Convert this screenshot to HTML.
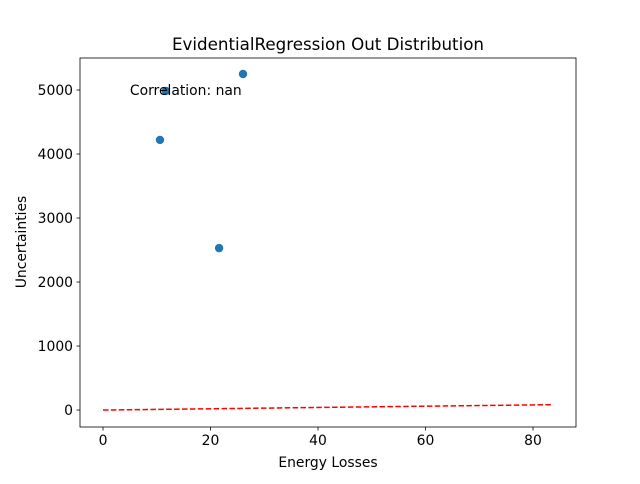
<!DOCTYPE html>
<html><head><meta charset="utf-8"><style>
body{margin:0;background:#fff;font-family:"DejaVu Sans","Liberation Sans",sans-serif;}
svg text{font-family:"DejaVu Sans","Liberation Sans",sans-serif;}
</style></head><body>
<svg id="chart" width="640" height="480">
<rect width="640" height="480" fill="#fff"/>
<text x="328" y="50" font-size="16.7" text-anchor="middle">EvidentialRegression Out Distribution</text>
<g id="plot"></g>
<text x="328" y="467" font-size="13.9" text-anchor="middle">Energy Losses</text>
<text transform="translate(26,242) rotate(-90)" font-size="13.9" text-anchor="middle">Uncertainties</text>
</svg>
<script>
const xs=[10.6,11.7,21.6,26.05];
const ys=[4220,4985,2530,5250];
const xTicks=[0,20,40,60,80];
const yTicks=[0,1000,2000,3000,4000,5000];
const lineX=[0,83.8];
const L=80,R=576,T=58,B=427;
const xmin=-4.28,xmax=88.0,ymin=-265,ymax=5500;
const sx=v=>L+(v-xmin)/(xmax-xmin)*(R-L);
const sy=v=>B-(v-ymin)/(ymax-ymin)*(B-T);
const g=document.getElementById('plot');
const NS='http://www.w3.org/2000/svg';
function mk(t,a){const e=document.createElementNS(NS,t);for(const k in a)e.setAttribute(k,a[k]);g.appendChild(e);return e;}
const ln=mk('line',{x1:sx(lineX[0]),y1:sy(lineX[0]),x2:sx(lineX[1]),y2:sy(lineX[1]),stroke:'#ff0000','stroke-width':1.5,'stroke-dasharray':'5.5,2.4'});


xs.forEach((x,i)=>{const c=mk('circle',{cx:sx(x),cy:sy(ys[i]),r:4.2,fill:'#1f77b4'});

});
const ann=mk('text',{x:sx(5),y:sy(5000)+5,'font-size':13.9});ann.textContent='Correlation: nan';


const fr=mk('rect',{x:L,y:T,width:R-L,height:B-T,fill:'none',stroke:'#000','stroke-width':0.8});


xTicks.forEach(v=>{const x=sx(v);const t=mk('line',{x1:x,y1:B,x2:x,y2:B+3.5,stroke:'#000','stroke-width':0.8});


const l=mk('text',{x:x,y:B+18,'font-size':13.9,'text-anchor':'middle'});l.textContent=v;

});
yTicks.forEach(v=>{const y=sy(v);const t=mk('line',{x1:L-3.5,y1:y,x2:L,y2:y,stroke:'#000','stroke-width':0.8});


const l=mk('text',{x:L-7,y:y+5,'font-size':13.9,'text-anchor':'end'});l.textContent=v;

});
</script>
</body></html>
